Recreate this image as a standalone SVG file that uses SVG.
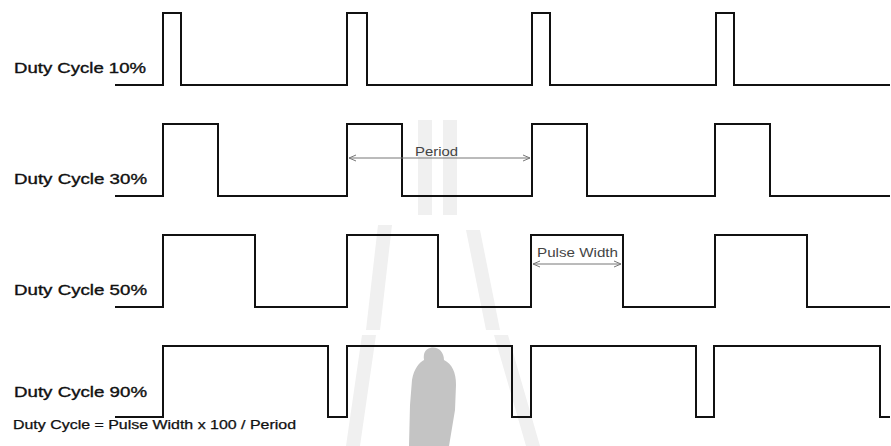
<svg xmlns="http://www.w3.org/2000/svg" width="891" height="446" viewBox="0 0 891 446">
<style>
.wave{fill:none;stroke:#111;stroke-width:2;stroke-linejoin:miter}
.lbl{font-family:"Liberation Sans",Arial,sans-serif;font-size:14px;fill:#111;stroke:#111;stroke-width:0.35}
.ann{font-family:"Liberation Sans",Arial,sans-serif;font-size:12px;fill:#444}
.dim{stroke:#777;stroke-width:1;fill:none}
.wm{fill:#f0f0f0}
.wm2{fill:#c4c4c4}
</style>
<defs>
<marker id="ah" viewBox="0 0 8 8" refX="7" refY="4" markerWidth="8" markerHeight="8" orient="auto-start-reverse" markerUnits="userSpaceOnUse">
<path d="M0,1 L7,4 L0,7" fill="none" stroke="#777" stroke-width="1"/>
</marker>
</defs>
<rect width="891" height="446" fill="#fff"/>
<g id="watermark">
<path class="wm" d="M418,120 L432,120 L432,215 L418,215 Z M443,120 L457,120 L457,215 L443,215 Z"/>
<path class="wm" d="M378,225 L392,225 L380,330 L366,330 Z M466,230 L480,230 L500,330 L486,330 Z"/>
<path class="wm" d="M362,335 L376,335 L360,446 L346,446 Z M494,335 L508,335 L540,446 L526,446 Z"/>
<path class="wm2" d="M430,348 C438,346 444,352 444,360 C452,364 456,372 456,385 L455,410 L449,446 L409,446 L410,405 L412,380 C414,368 420,362 424,360 C423,352 426,349 430,348 Z"/>
</g>
<g id="row10">
<path class="wave" d="M115,85 H163 V13 H181 V85 H347 V13 H367 V85 H532 V13 H550 V85 H716 V13 H734 V85 H890"/>
<text class="lbl" x="14" y="73" textLength="132" lengthAdjust="spacingAndGlyphs">Duty Cycle 10%</text>
</g>
<g id="row30">
<path class="wave" d="M115,196 H163 V124 H218 V196 H347 V124 H402 V196 H532 V124 H587 V196 H715 V124 H770 V196 H890"/>
<text class="lbl" x="14" y="184" textLength="133" lengthAdjust="spacingAndGlyphs">Duty Cycle 30%</text>
</g>
<g id="row50">
<path class="wave" d="M115,307 H163 V235 H255 V307 H347 V235 H438 V307 H531 V235 H623 V307 H715 V235 H807 V307 H890"/>
<text class="lbl" x="14" y="295" textLength="133" lengthAdjust="spacingAndGlyphs">Duty Cycle 50%</text>
</g>
<g id="row90">
<path class="wave" d="M115,417 H163 V346 H328 V417 H347 V346 H512 V417 H531 V346 H696 V417 H714 V346 H880 V417 H890"/>
<text class="lbl" x="14" y="397" textLength="133" lengthAdjust="spacingAndGlyphs">Duty Cycle 90%</text>
</g>
<g id="connectors">
<line class="dim" x1="349" y1="158" x2="530" y2="158" marker-start="url(#ah)" marker-end="url(#ah)"/>
<line class="dim" x1="533" y1="264" x2="621" y2="264" marker-start="url(#ah)" marker-end="url(#ah)"/>
</g>
<g id="annotations">
<text class="ann" x="415" y="156" textLength="43" lengthAdjust="spacingAndGlyphs">Period</text>
<text class="ann" x="537" y="257" textLength="81" lengthAdjust="spacingAndGlyphs">Pulse Width</text>
<text class="lbl" x="13" y="429" style="font-size:12px;stroke-width:0.25" textLength="283" lengthAdjust="spacingAndGlyphs">Duty Cycle = Pulse Width x 100 / Period</text>
</g>
</svg>
